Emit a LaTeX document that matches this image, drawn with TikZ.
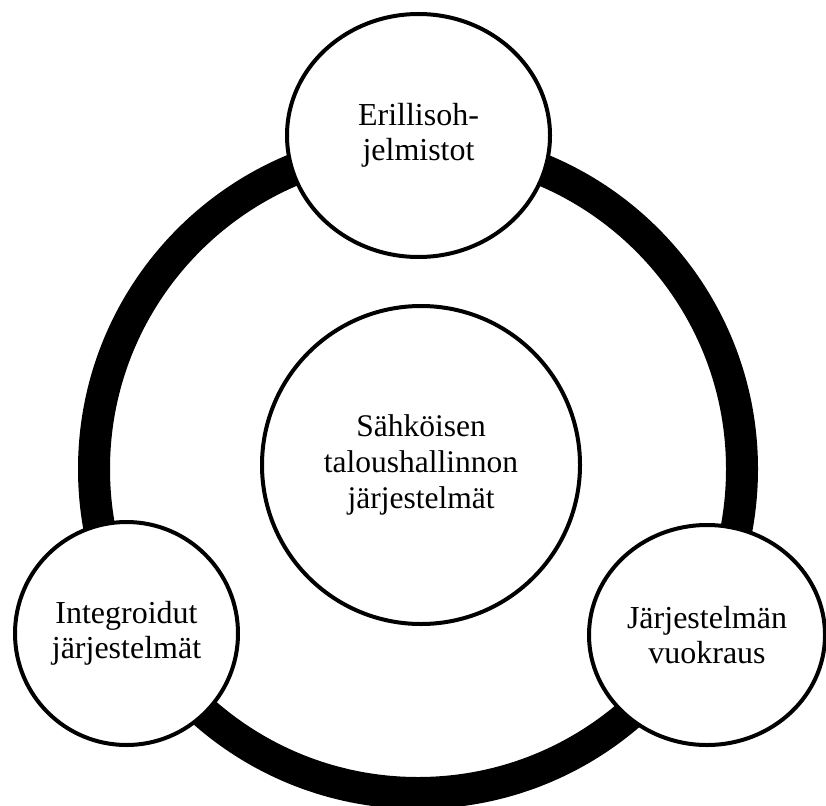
\documentclass[tikz,border=0pt]{standalone}
\usepackage{fontspec}
\setmainfont{Liberation Serif}
\usetikzlibrary{shapes.geometric}
\begin{document}
\begin{tikzpicture}[x=1pt,y=-1pt,
  bubble/.style={draw=black,line width=4pt,fill=white,ellipse,inner sep=0pt,align=center,
    font=\fontsize{32}{35}\selectfont},
  hub/.style={bubble,font=\fontsize{31.5}{36}\selectfont},
  ring/.style={draw=black,line width=32pt}]
\useasboundingbox (0,0) rectangle (826,805);
\coordinate (ringc) at (418,469);
\draw[ring] (ringc) circle[radius=324];
\node[hub,minimum width=318pt,minimum height=318pt] (center) at (421,465)
  {Sähköisen\\taloushallinnon\\järjestelmät};
\node[bubble,minimum width=263pt,minimum height=243pt] (top) at (418.5,135.5)
  {Erillisoh-\\jelmistot};
\node[bubble,minimum width=223pt,minimum height=223pt] (left) at (126.5,633.5)
  {Integroidut\\järjestelmät};
\node[bubble,minimum width=236pt,minimum height=220pt] (right) at (707,635)
  {Järjestelmän\\vuokraus};
\end{tikzpicture}
\end{document}
